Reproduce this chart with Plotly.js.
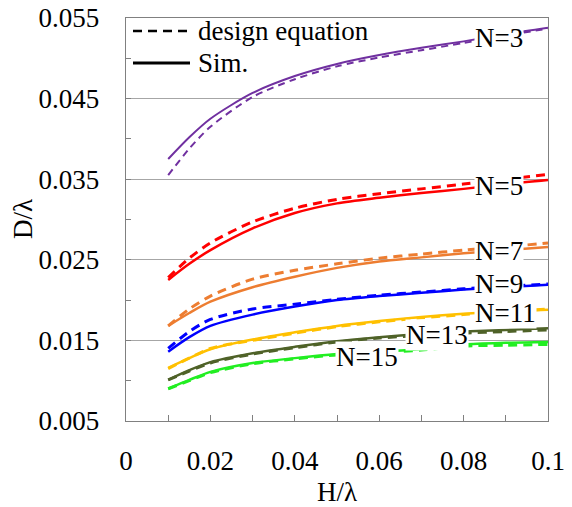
<!DOCTYPE html>
<html><head><meta charset="utf-8">
<script src="https://cdn.plot.ly/plotly-3.0.1.min.js"></script>
<style>html,body{margin:0;padding:0;background:#fff}#chart{width:572px;height:507px}</style>
</head><body><div id="chart"></div>
<script>
// H/lambda sample positions
const hOverLambda = [0.01, 0.015, 0.02, 0.03, 0.04, 0.05, 0.06, 0.07, 0.08, 0.09, 0.1];

// Sim. (solid) D/lambda
const simN3  = [0.0375, 0.0402, 0.0425, 0.0457, 0.0478, 0.0493, 0.0504, 0.0513, 0.0521, 0.0530, 0.0538];
const simN5  = [0.0225, 0.0245, 0.0262, 0.0289, 0.0308, 0.0320, 0.0327, 0.0333, 0.0338, 0.0344, 0.0349];
const simN7  = [0.0168, 0.0184, 0.0198, 0.0216, 0.0229, 0.0240, 0.0248, 0.0253, 0.0258, 0.0262, 0.0266];
const simN9  = [0.0136, 0.0154, 0.0168, 0.0182, 0.0192, 0.0200, 0.0205, 0.0209, 0.0213, 0.0216, 0.0219];
const simN11 = [0.0116, 0.0128, 0.0139, 0.0151, 0.0160, 0.0168, 0.0174, 0.0179, 0.0183, 0.0186, 0.0188];
const simN13 = [0.0101, 0.0113, 0.0123, 0.0134, 0.0142, 0.0149, 0.0154, 0.0158, 0.0161, 0.0163, 0.0165];
const simN15 = [0.0090, 0.0101, 0.0111, 0.0122, 0.0128, 0.0133, 0.0136, 0.0139, 0.0145, 0.0147, 0.0148];

// design equation (dashed) D/lambda
const desN3  = [0.0355, 0.0388, 0.0415, 0.0452, 0.0474, 0.0490, 0.0501, 0.0510, 0.0519, 0.0528, 0.0537];
const desN5  = [0.0228, 0.0252, 0.0271, 0.0297, 0.0314, 0.0325, 0.0332, 0.0338, 0.0344, 0.0350, 0.0356];
const desN7  = [0.0168, 0.0189, 0.0205, 0.0226, 0.0237, 0.0245, 0.0252, 0.0257, 0.0262, 0.0266, 0.0271];
const desN9  = [0.0140, 0.0161, 0.0176, 0.0189, 0.0195, 0.0201, 0.0206, 0.0210, 0.0214, 0.0217, 0.0220];
const desN11 = [0.0115, 0.0128, 0.0140, 0.0150, 0.0159, 0.0167, 0.0173, 0.0178, 0.0182, 0.0186, 0.0189];
const desN13 = [0.0101, 0.0112, 0.0122, 0.0133, 0.0141, 0.0148, 0.0153, 0.0156, 0.0159, 0.0161, 0.0163];
const desN15 = [0.0090, 0.0100, 0.0110, 0.0121, 0.0127, 0.0132, 0.0135, 0.0138, 0.0143, 0.0144, 0.0145];

const seriesNames = ['N=3', 'N=5', 'N=7', 'N=9', 'N=11', 'N=13', 'N=15'];
const seriesColors = ['#7030A0', '#FF0000', '#ED7D31', '#0000FF', '#FFC000', '#4F6228', '#22EE22'];
const simSeries = [simN3, simN5, simN7, simN9, simN11, simN13, simN15];
const desSeries = [desN3, desN5, desN7, desN9, desN11, desN13, desN15];

// label anchor positions (left edge x, centre y) for curve labels
const labelX = [0.0825, 0.0825, 0.0825, 0.0825, 0.0825, 0.0661, 0.0495];
const labelY = [0.0525, 0.0342, 0.0261, 0.0220, 0.0184, 0.0157, 0.0129];

// legend entries
const legendNames = ['design equation', 'Sim.'];
const legendDash = ['9px,6px', 'solid'];

const FONT = 'Liberation Serif';
const traces = [];
seriesNames.forEach((n, i) => {
  traces.push({x: hOverLambda, y: desSeries[i], mode: 'lines', name: n + ' design equation', showlegend: false,
    line: {color: seriesColors[i], width: i === 0 ? 2 : 3, dash: i === 0 ? '7px,5px' : '9px,6px', shape: 'spline', smoothing: 0.8}});
  traces.push({x: hOverLambda, y: simSeries[i], mode: 'lines', name: n + ' Sim.', showlegend: false,
    line: {color: seriesColors[i], width: i === 0 ? 2 : 2.5, shape: 'spline', smoothing: 0.8}});
});

const annotations = seriesNames.map((n, i) => ({
  x: labelX[i], y: labelY[i], xref: 'x', yref: 'y', text: n, showarrow: false,
  xanchor: 'left', yanchor: 'middle', bgcolor: '#fff', borderpad: 0,
  font: {family: FONT, size: 27, color: '#000'}
}));

// legend drawn in paper coordinates: rows at pixel y 31 and 63
const shapes = [];
legendNames.forEach((n, k) => {
  const yp = (421 - (31 + 32 * k)) / 403;
  shapes.push({type: 'line', xref: 'paper', yref: 'paper', x0: (133 - 126) / 422, x1: (190 - 126) / 422,
    y0: yp, y1: yp, line: {color: '#000', width: k === 0 ? 2.5 : 3, dash: legendDash[k]}});
  annotations.push({xref: 'paper', yref: 'paper', x: (197 - 126) / 422, y: yp, text: n, showarrow: false,
    xanchor: 'left', yanchor: 'middle', borderpad: 0, font: {family: FONT, size: 27, color: '#000'}});
});

// y-axis title placed as rotated text left of the tick labels
annotations.push({xref: 'paper', yref: 'paper', x: (23 - 126) / 422, y: 0.501, text: 'D/λ', showarrow: false,
  textangle: -90, xanchor: 'center', yanchor: 'middle', borderpad: 0, font: {family: FONT, size: 27, color: '#000'}});

const layout = {
  width: 572, height: 507,
  margin: {l: 126, r: 24, t: 18, b: 86},
  paper_bgcolor: '#fff', plot_bgcolor: '#fff',
  font: {family: FONT, size: 27, color: '#000'},
  showlegend: false,
  xaxis: {range: [0, 0.1], tick0: 0, dtick: 0.02, ticks: 'inside', ticklen: 6, tickcolor: '#808080',
    minor: {dtick: 0.01, ticks: 'inside', ticklen: 6, tickcolor: '#808080', showgrid: false},
    showgrid: false, zeroline: false, showline: true, linecolor: '#808080', linewidth: 1.3, mirror: true,
    ticklabelstandoff: 15, tickfont: {family: FONT, size: 27},
    title: {text: 'H/λ', font: {family: FONT, size: 27}, standoff: 7}},
  yaxis: {range: [0.005, 0.055], tick0: 0.005, dtick: 0.01, ticks: 'inside', ticklen: 5, tickcolor: '#808080',
    minor: {dtick: 0.01, tick0: 0, ticks: 'inside', ticklen: 5, tickcolor: '#808080', showgrid: false},
    showgrid: true, gridcolor: '#A6A6A6', gridwidth: 1.3, zeroline: false,
    showline: true, linecolor: '#808080', linewidth: 1.3, mirror: true,
    ticklabelstandoff: 20, tickfont: {family: FONT, size: 27}},
  shapes: shapes,
  annotations: annotations
};

Plotly.newPlot('chart', traces, layout, {displayModeBar: false, staticPlot: true});
</script>
</body></html>
